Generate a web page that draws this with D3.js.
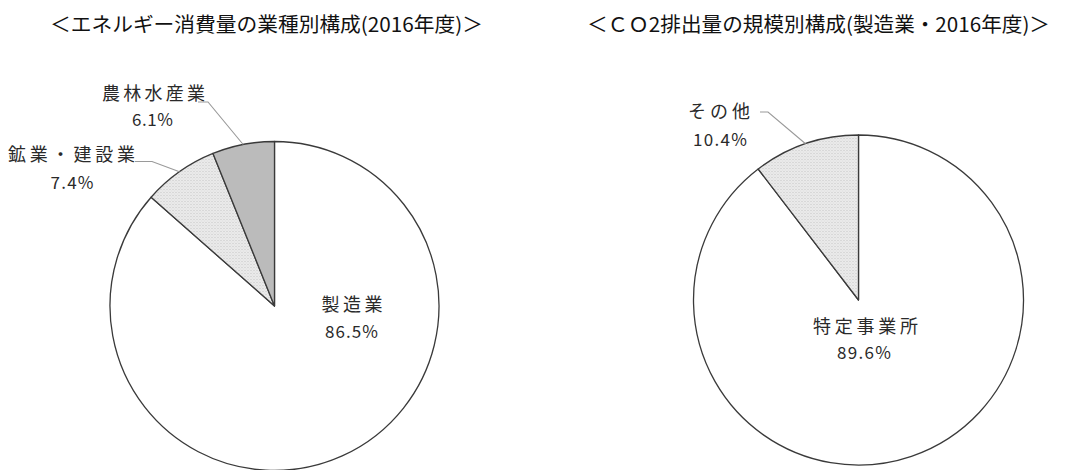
<!DOCTYPE html>
<html>
<head>
<meta charset="utf-8">
<script src="https://cdn.jsdelivr.net/npm/d3@7"></script>
<style>
  body { margin: 0; background: #fff; }
  svg { display: block; font-family: "Noto Sans CJK JP", "Noto Sans", sans-serif; }
</style>
</head>
<body>
<div id="chart"></div>
<script>
// energy use by industry (2016)
const energyLabels = ["製造業", "鉱業・建設業", "農林水産業"];
const energyValues = [86.5, 7.4, 6.1];

// CO2 by establishment size (manufacturing, 2016)
const co2Labels = ["特定事業所", "その他"];
const co2Values = [89.6, 10.4];

const titles = ["＜エネルギー消費量の業種別構成(2016年度)＞", "＜ＣＯ2排出量の規模別構成(製造業・2016年度)＞"];

const width = 1077;
const height = 470;

const svg = d3.select("#chart")
    .append("svg")
    .attr("width", width)
    .attr("height", height);

// fill textures
const defs = svg.append("defs");

const vlines = defs.append("pattern")
    .attr("id", "vlines")
    .attr("patternUnits", "userSpaceOnUse")
    .attr("width", 2).attr("height", 2);
vlines.append("rect").attr("width", 2).attr("height", 2).attr("fill", "#c6c6c6");
vlines.append("rect").attr("width", 1).attr("height", 2).attr("fill", "#b0b0b0");

const dots = defs.append("pattern")
    .attr("id", "dots")
    .attr("patternUnits", "userSpaceOnUse")
    .attr("width", 3).attr("height", 3);
dots.append("rect").attr("width", 3).attr("height", 3).attr("fill", "#ececec");
dots.append("rect").attr("width", 1).attr("height", 1).attr("fill", "#c4c4c4");
dots.append("rect").attr("x", 1.5).attr("y", 1.5).attr("width", 1).attr("height", 1).attr("fill", "#d0d0d0");

// titles
const titleLayout = [
    { x: 50, len: 433 },
    { x: 587, len: 463 }
];
svg.selectAll("text.title")
    .data(titles)
    .enter()
    .append("text")
    .attr("class", "title")
    .attr("x", (d, i) => titleLayout[i].x)
    .attr("y", 23)
    .attr("dominant-baseline", "central")
    .attr("font-size", 20)
    .attr("fill", "#111")
    .attr("textLength", (d, i) => titleLayout[i].len)
    .attr("lengthAdjust", "spacingAndGlyphs")
    .text(d => d);

const pie = d3.pie().sort(null).value(d => d.value);

function drawPie(cfg) {
    const data = cfg.labels.map((l, i) => ({ label: l, value: cfg.values[i] }));
    const arcs = pie(data);
    const r = cfg.r;
    const arc = d3.arc().innerRadius(0).outerRadius(r);

    const g = svg.append("g")
        .attr("transform", `translate(${cfg.cx},${cfg.cy})`);

    g.selectAll("path")
        .data(arcs)
        .enter()
        .append("path")
        .attr("d", arc)
        .attr("fill", (d, i) => cfg.fills[i])
        .attr("stroke", "#3a3a3a")
        .attr("stroke-width", 1.3)
        .attr("stroke-linejoin", "round");

    // labels + leader lines
    arcs.forEach((d, i) => {
        const lab = cfg.labelPos[i];
        if (lab.leader) {
            const mid = (d.startAngle + d.endAngle) / 2;
            const px = Math.sin(mid) * r;
            const py = -Math.cos(mid) * r;
            g.append("polyline")
                .attr("points", [
                    [lab.leader[0] - cfg.cx, lab.leader[2] - cfg.cy],
                    [lab.leader[1] - cfg.cx, lab.leader[2] - cfg.cy],
                    [px, py]
                ].map(p => p.join(",")).join(" "))
                .attr("fill", "none")
                .attr("stroke", "#9a9a9a")
                .attr("stroke-width", 1.1);
        }
        svg.append("text")
            .attr("x", lab.x)
            .attr("y", lab.y1)
            .attr("text-anchor", "middle")
            .attr("dominant-baseline", "central")
            .attr("font-size", 18)
            .attr("fill", "#2a2a2a")
            .attr("textLength", lab.w1)
            .attr("lengthAdjust", "spacing")
            .text(d.data.label);
        svg.append("text")
            .attr("x", lab.x2)
            .attr("y", lab.y2)
            .attr("text-anchor", "middle")
            .attr("dominant-baseline", "central")
            .attr("font-size", 17)
            .attr("fill", "#2a2a2a")
            .attr("textLength", lab.w2)
            .attr("lengthAdjust", "spacing")
            .text(d3.format(".1f")(d.value) + "%");
    });
}

drawPie({
    labels: energyLabels,
    values: energyValues,
    cx: 274.5, cy: 306, r: 164.5,
    fills: ["#ffffff", "url(#dots)", "url(#vlines)"],
    labelPos: [
        { x: 352, y1: 303, w1: 61, x2: 351.5, y2: 330, w2: 53 },
        { x: 71.5, y1: 153, w1: 127, x2: 72, y2: 181, w2: 43, leader: [135, 152, 161.5] },
        { x: 153.5, y1: 92, w1: 103, x2: 152.5, y2: 118, w2: 41, leader: [198, 208, 102] }
    ]
});

drawPie({
    labels: co2Labels,
    values: co2Values,
    cx: 858.5, cy: 300, r: 165,
    fills: ["#ffffff", "url(#dots)"],
    labelPos: [
        { x: 865.5, y1: 325, w1: 105, x2: 864, y2: 351, w2: 54 },
        { x: 719, y1: 110, w1: 62, x2: 720, y2: 138, w2: 54, leader: [760, 768, 112] }
    ]
});
</script>
</body>
</html>
